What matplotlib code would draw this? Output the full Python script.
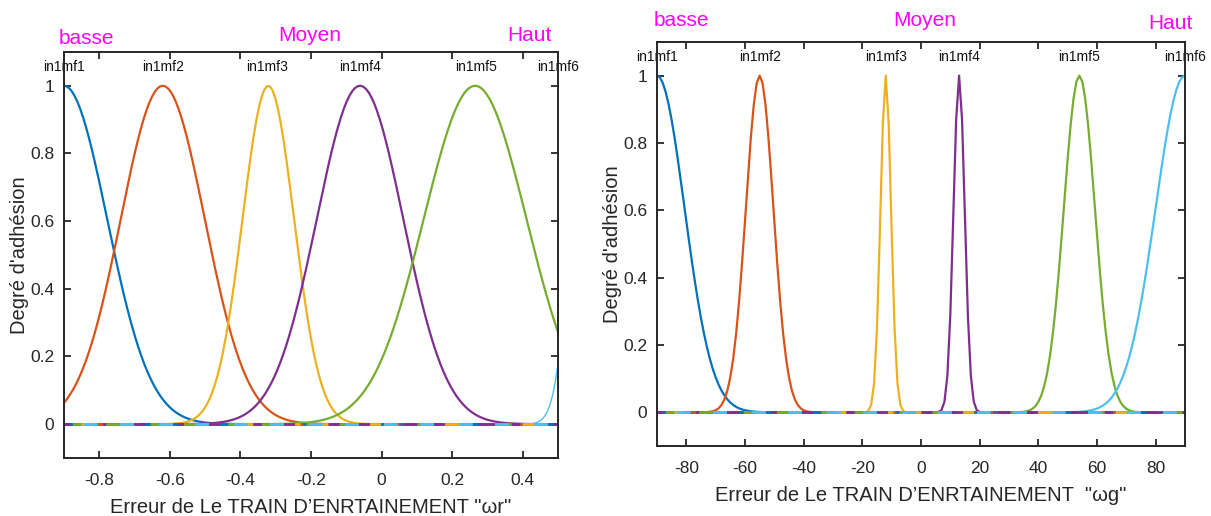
import numpy as np
import matplotlib
matplotlib.use("Agg")
import matplotlib.pyplot as plt

plt.rcParams['font.family'] = ['Liberation Sans', 'DejaVu Sans']

# MATLAB default line colours, one per membership function
mf_colors = ['#0072BD', '#D95319', '#EDB120', '#7E2F8E', '#77AC30', '#4DBEEE']
mf_names = ['in1mf1', 'in1mf2', 'in1mf3', 'in1mf4', 'in1mf5', 'in1mf6']

# Input "wr": gaussian membership functions (centre, sigma)
wr_range = (-0.9, 0.5)
wr_centers = [-0.90, -0.62, -0.321, -0.061, 0.265, 0.58]
wr_sigmas = [0.1225, 0.119, 0.073, 0.1225, 0.1456, 0.043]
wr_xticks = [-0.8, -0.6, -0.4, -0.2, 0.0, 0.2, 0.4]
wr_xticklabels = ['-0.8', '-0.6', '-0.4', '-0.2', '0', '0.2', '0.4']

# Input "wg": gaussian membership functions (centre, sigma)
wg_range = (-90, 90)
wg_centers = [-90, -55, -12, 13, 54, 90]
wg_sigmas = [9.4, 4.7, 1.8, 1.9, 5.3, 10.0]
wg_xticks = [-80, -60, -40, -20, 0, 20, 40, 60, 80]
wg_xticklabels = ['-80', '-60', '-40', '-20', '0', '20', '40', '60', '80']

yticks = [0, 0.2, 0.4, 0.6, 0.8, 1.0]
yticklabels = ['0', '0.2', '0.4', '0.6', '0.8', '1']

level_labels = ['basse', 'Moyen', 'Haut']

# plotmf samples each function on 181 points
n_pts = 181

# irregular dash patterns so the coincident zero segments interleave colours
zero_dashes = [(0, (6, 9, 3, 7)), (4, (5, 11, 2, 6)), (9, (7, 8, 4, 10)),
               (2, (4, 12, 6, 5)), (13, (6, 10, 3, 9)), (7, (5, 9, 5, 8))]

edge = '#262626'


def gaussmf(x, c, s):
    return np.exp(-((x - c) ** 2) / (2.0 * s ** 2))


def draw_panel(ax, xr, centers, sigmas, xticks, xticklabels, xlabel,
               level_pos, thin_last):
    x = np.linspace(xr[0], xr[1], n_pts)
    for i, (c, s) in enumerate(zip(centers, sigmas)):
        y = gaussmf(x, c, s)
        lw = 1.0 if (thin_last and i == len(centers) - 1) else 1.6
        ax.plot(x, y, color=mf_colors[i], lw=lw, zorder=2.0)
        k = int(np.argmax(y))
        ax.text(x[k], 1.035, mf_names[i], ha='center', va='bottom',
                fontsize=10, color='#111111', zorder=1, clip_on=False)

    # the functions' zero tails coincide and show as a mixed-colour stripe
    zero = np.zeros_like(x)
    ax.plot(x, zero, color=mf_colors[0], lw=2.0, zorder=2.1,
            solid_capstyle='butt')
    for i in range(len(centers)):
        ax.plot(x, zero, color=mf_colors[i], lw=2.0,
                linestyle=zero_dashes[i], solid_capstyle='butt', zorder=2.2)

    ax.set_xlim(*xr)
    ax.set_ylim(-0.1, 1.1)
    ax.set_xticks(xticks)
    ax.set_xticklabels(xticklabels)
    ax.set_yticks(yticks)
    ax.set_yticklabels(yticklabels)
    ax.tick_params(direction='in', top=True, right=True, length=5,
                   width=1.3, color=edge, labelcolor=edge, labelsize=12.5)
    ax.tick_params(axis='x', pad=11)
    ax.tick_params(axis='y', pad=7)
    for sp in ax.spines.values():
        sp.set_color(edge)
        sp.set_linewidth(1.4)
        sp.set_zorder(3)
    ax.set_xlabel(xlabel, fontsize=14.5, color=edge, labelpad=7)
    ax.set_ylabel("Degré d'adhésion", fontsize=14.5, color=edge, labelpad=1)

    for txt, (fx, fy) in zip(level_labels, level_pos):
        ax.text(fx, fy, txt, transform=ax.transAxes, ha='center', va='center',
                fontsize=15, color='#FF00FF', clip_on=False)


fig = plt.figure(figsize=(12.11, 5.16), dpi=100)
ax1 = fig.add_axes([0.0528, 0.1124, 0.408, 0.787])
ax2 = fig.add_axes([0.5425, 0.1357, 0.436, 0.783])

draw_panel(ax1, wr_range, wr_centers, wr_sigmas, wr_xticks, wr_xticklabels,
           'Erreur de Le TRAIN D\u2019ENRTAINEMENT "\u03c9r"',
           [(0.045, 1.034), (0.498, 1.040), (0.943, 1.040)], True)
draw_panel(ax2, wg_range, wg_centers, wg_sigmas, wg_xticks, wg_xticklabels,
           'Erreur de Le TRAIN D\u2019ENRTAINEMENT  "\u03c9g"',
           [(0.047, 1.054), (0.508, 1.054), (0.972, 1.045)], False)

fig.savefig('out.png', dpi=100, facecolor='white')
